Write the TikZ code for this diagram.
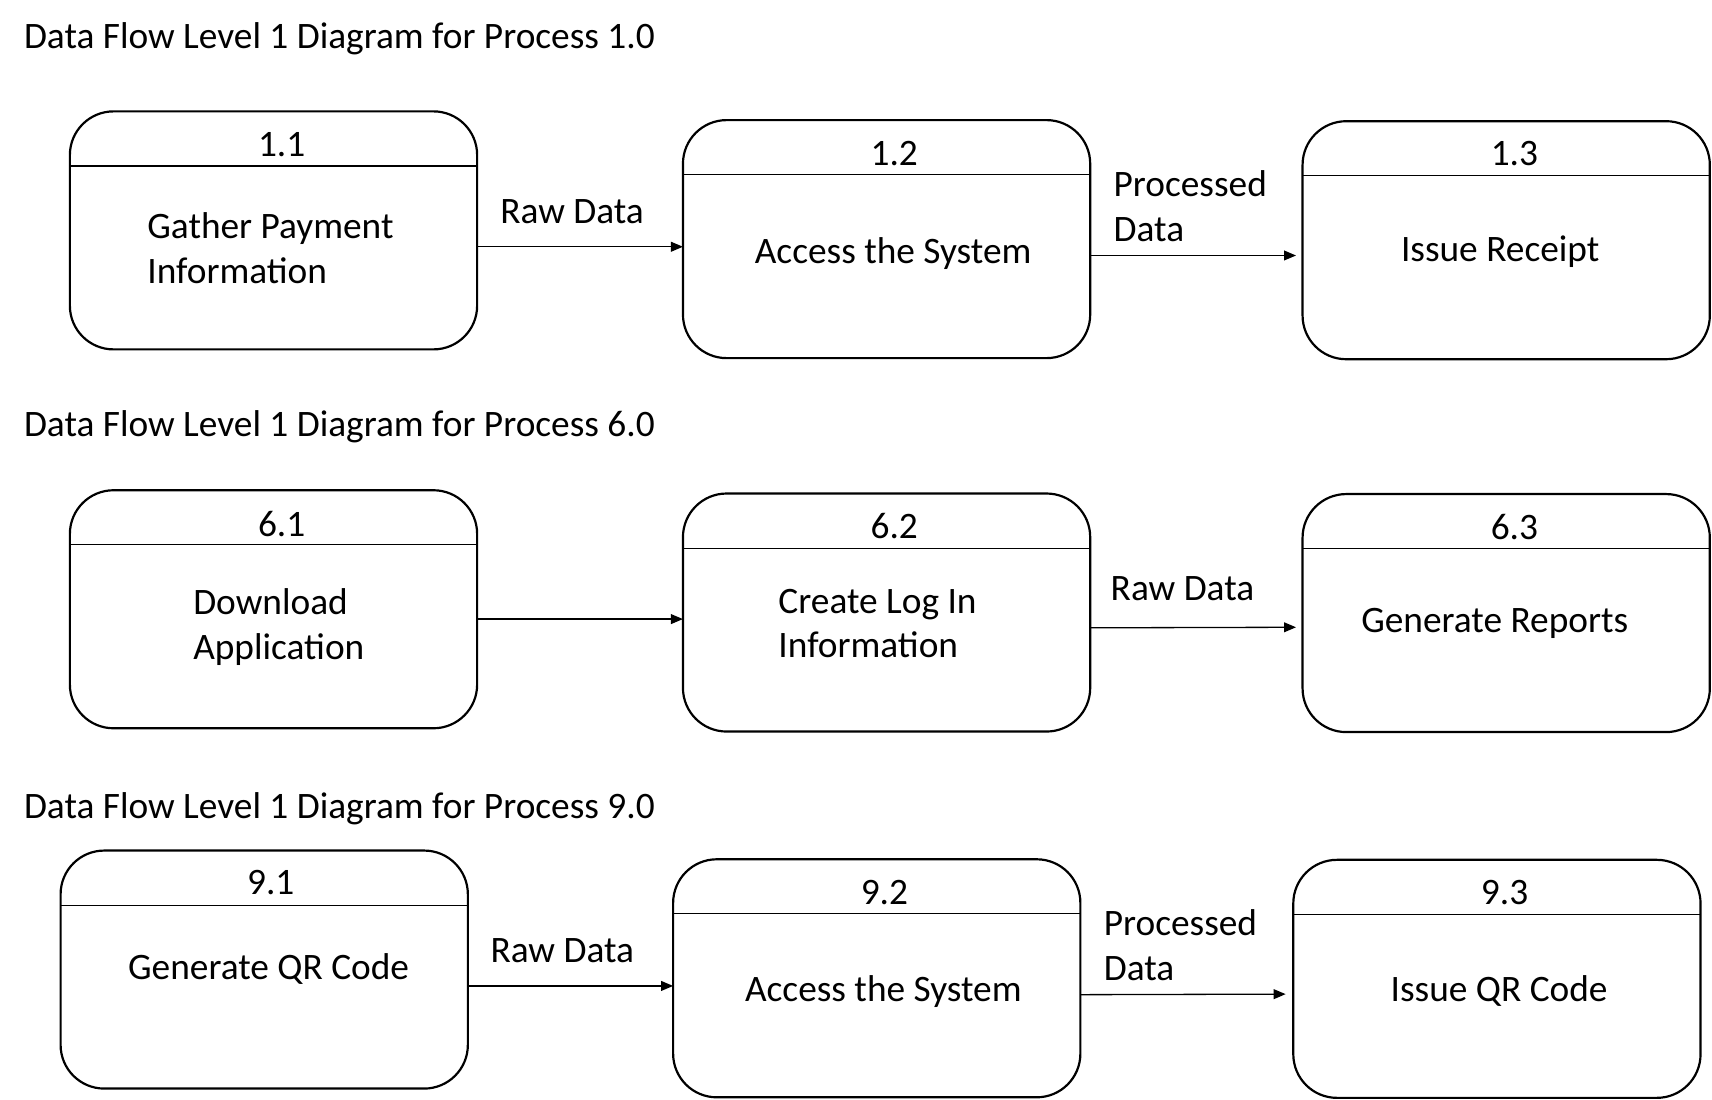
\documentclass[tikz,border=0pt]{standalone}
\usepackage{fontspec}
\setmainfont{Carlito}
\usetikzlibrary{arrows.meta,calc}
\begin{document}
\begin{tikzpicture}[x=1pt,y=-1pt,
  every node/.style={font=\fontsize{34.2}{41}\selectfont, inner sep=0pt, outer sep=0pt, yshift=-2.5pt},
  proc/.style={draw, line width=2pt, rounded corners=40pt, minimum width=373pt, minimum height=218pt, yshift=2.5pt},
  hdr/.style={line width=1pt},
  flow/.style={line width=1.2pt, -{Triangle[length=11pt,width=9pt]}},
  ttl/.style={anchor=west}
]
\useasboundingbox (0,0) rectangle (1568,1007);
% titles
\node[ttl] (t1) at (22,33) {Data Flow Level 1 Diagram for Process 1.0};
\node[ttl] (t6) at (22,388) {Data Flow Level 1 Diagram for Process 6.0};
\node[ttl] (t9) at (22,738) {Data Flow Level 1 Diagram for Process 9.0};

% row 1
\node[proc] (b11) at (250.5,211) {};
\node[proc] (b12) at (812,219) {};
\node[proc] (b13) at (1379.5,220) {};
% row 2
\node[proc] (b61) at (250.5,558) {};
\node[proc] (b62) at (812,561) {};
\node[proc] (b63) at (1379.5,561.5) {};
% row 3
\node[proc] (b91) at (242,888) {};
\node[proc] (b92) at (803,896) {};
\node[proc] (b93) at (1371,896.5) {};

% header lines
\foreach \b in {b11,b12,b13,b61,b62,b63,b91,b92,b93}{
  \draw[hdr] ($(\b.north west)+(0,50)$) -- ($(\b.north east)+(0,50)$);
}

% numbers
\node (n11) at (258,130) {1.1};
\node (n12) at (819,138) {1.2};
\node (n13) at (1387,138) {1.3};
\node (n61) at (258,477) {6.1};
\node (n62) at (819,479) {6.2};
\node (n63) at (1387,480) {6.3};
\node (n91) at (248,806) {9.1};
\node (n92) at (810,815) {9.2};
\node (n93) at (1378,815) {9.3};

% process texts
\node[anchor=west, align=left] (p11) at (135,224.5) {Gather Payment\\Information};
\node (p12) at (818,230) {Access the System};
\node (p13) at (1374,228) {Issue Receipt};
\node[anchor=west, align=left] (p61) at (177,572) {Download\\Application};
\node[anchor=west, align=left] (p62) at (713,568.5) {Create Log In\\Information};
\node (p63) at (1369,568) {Generate Reports};
\node (p91) at (246,885) {Generate QR Code};
\node (p92) at (809,906) {Access the System};
\node (p93) at (1373,905) {Issue QR Code};

% flows row 1
\draw[flow] ($(b11.north east)+(0,124)$) -- ($(b12.north west)+(0,116)$);
\draw[flow] ($(b12.north east)+(0,124)$) -- ($(b13.north west)+(-6,123)$);
\node (l1) at (524,191) {Raw Data};
\node[anchor=west, align=left] (l2) at (1020,186.5) {Processed\\Data};
% flows row 2
\draw[flow] ($(b61.north east)+(0,118)$) -- ($(b62.north west)+(0,115)$);
\draw[flow] ($(b62.north east)+(0,123)$) -- ($(b63.north west)+(-6,122)$);
\node (l3) at (1083,537) {Raw Data};
% flows row 3
\draw[flow] ($(b91.north east)+(0,124)$) -- ($(b92.north west)+(0,116)$);
\draw[flow] ($(b92.north east)+(0,124)$) -- ($(b93.north west)+(-7,123)$);
\node (l4) at (515,868) {Raw Data};
\node[anchor=west, align=left] (l5) at (1011,863.5) {Processed\\Data};
\end{tikzpicture}
\end{document}
